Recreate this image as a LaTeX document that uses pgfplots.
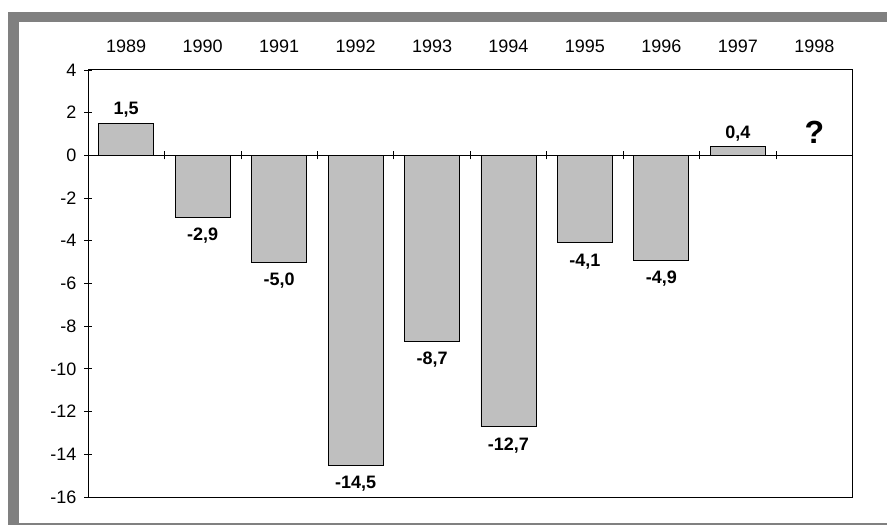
\documentclass[border=0pt]{standalone}
\usepackage{pgfplots}
\pgfplotsset{compat=1.18}
\usepackage{pgfplotstable}
\usepackage{fontspec}
\setmainfont{Liberation Sans}
\pgfplotstableread{
x y
0 1.5
1 -2.9
2 -5.0
3 -14.5
4 -8.7
5 -12.7
6 -4.1
7 -4.9
8 0.4
}\datatable
\begin{document}
\begin{tikzpicture}
\useasboundingbox (0pt,0pt) rectangle (887pt,528pt);
\fill[black!50] (8pt,506pt) rectangle (887pt,516pt);
\fill[black!50] (8pt,3pt) rectangle (19pt,516pt);
\draw[black!50,line width=2pt] (8pt,4pt) -- (887pt,4pt);
\begin{axis}[
  at={(88pt,31pt)}, anchor=south west,
  width=764.5pt, height=427pt, scale only axis,
  xmin=-0.5, xmax=9.5, ymin=-16, ymax=4,
  ytick={-16,-14,...,4},
  ytick pos=left,
  xtick={0,...,9},
  xticklabels={1989,1990,1991,1992,1993,1994,1995,1996,1997,1998},
  xticklabel pos=upper,
  x tick style={draw=none},
  tick align=center,
  major tick length=8pt,
  tick style={black, line width=0.8pt},
  ticklabel style={/pgf/number format/assume math mode=true, font=\fontsize{18}{21}\selectfont},
  xticklabel style={yshift=6pt},
  yticklabel style={xshift=-4pt},
  axis line style={line width=1pt},
  ybar, bar width=0.72, bar shift=0pt,
  clip=false,
  nodes near coords={\pgfmathprintnumber[assume math mode=true,use comma,fixed,fixed zerofill,precision=1]{\pgfplotspointmeta}},
  visualization depends on={rawy \as \rawy},
  every node near coord/.append style={font=\bfseries\fontsize{18}{21}\selectfont, inner sep=0pt, outer sep=0pt, anchor={\ifdim\rawy pt<0pt north\else south\fi}, yshift={\ifdim\rawy pt<0pt -11pt\else 6pt\fi}},
]
\addplot[fill=black!25, draw=black, line width=0.9pt] table[x=x,y=y] {\datatable};
\draw[black, line width=1pt] (axis cs:-0.5,0) -- (axis cs:9.5,0);
\pgfplotsinvokeforeach{0.5,1.5,2.5,3.5,4.5,5.5,6.5,7.5,8.5}{
  \draw[black, line width=0.8pt] (axis cs:#1,0) ++(0pt,-4pt) -- ++(0pt,8pt);
}
\node[font=\bfseries\fontsize{32}{34}\selectfont] at (axis cs:9,1.06) {?};
\end{axis}
\end{tikzpicture}
\end{document}
